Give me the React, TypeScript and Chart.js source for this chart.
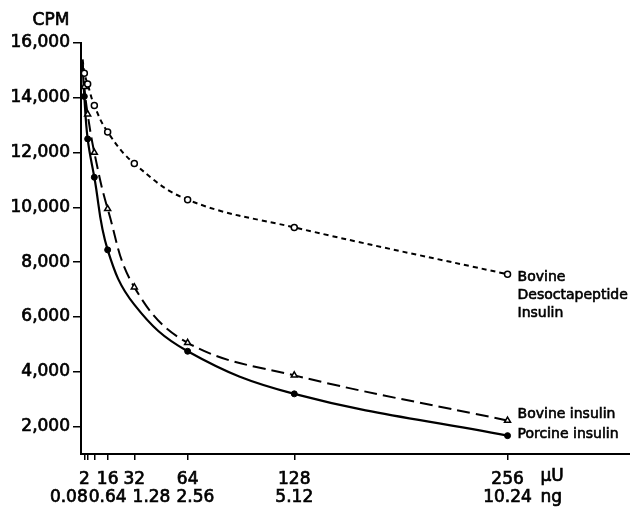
import React, { useEffect, useRef } from "react";
import { Chart, registerables } from "chart.js";

Chart.register(...registerables);

// ---- data ----
const xTicks = [2, 4, 8, 16, 32, 64, 128, 256];
const xLabeled = [2, 16, 32, 64, 128, 256];
const ngLabels = ["0.08", "0.64", "1.28", "2.56", "5.12", "10.24"];
const yTicks = [2000, 4000, 6000, 8000, 10000, 12000, 14000, 16000];
const yTitle = "CPM";
const xUnitTop = "\u03bcU";
const xUnitBottom = "ng";

// curve readings (dose in μU, counts per minute); marker doses list where a symbol is drawn
const desoctDose = [1, 2, 4, 8, 16, 32, 64, 128, 256];
const desoctCpm = [15400, 14900, 14500, 13720, 12750, 11600, 10280, 9270, 7560];
const desoctMarkerDoses = [2, 4, 8, 16, 32, 64, 128, 256];
const desoctLabel = ["Bovine", "Desoctapeptide", "Insulin"];

const bovineDose = [1, 2, 4, 8, 16, 32, 64, 128, 256];
const bovineCpm = [15300, 14400, 13400, 12000, 9950, 7090, 5060, 3870, 2220];
const bovineMarkerDoses = [2, 4, 8, 16, 32, 64, 128, 256];
const bovineLabel = ["Bovine insulin"];

const porcineDose = [1, 2, 4, 8, 16, 32, 64, 128, 256];
const porcineCpm = [15200, 14050, 12500, 11100, 8450, 6450, 4750, 3195, 1670];
const porcineMarkerDoses = [2, 4, 8, 16, 64, 128, 256];
const porcineLabel = ["Porcine insulin"];

const FONT = '"DejaVu Sans", "Liberation Sans", sans-serif';

const toPoints = (xs: number[], ys: number[]) => xs.map((x, i) => ({ x, y: ys[i] }));

const annotPlugin = {
  id: "annot",
  afterDraw(chart: any) {
    const ctx = chart.ctx as CanvasRenderingContext2D;
    const xs = chart.scales.x;
    const ys = chart.scales.y;
    const area = chart.chartArea;
    ctx.save();
    ctx.fillStyle = "#000";
    ctx.strokeStyle = "#000";
    const txt = (t: string, x: number, y: number, sw: number) => {
      ctx.lineWidth = sw;
      ctx.strokeText(t, x, y);
      ctx.fillText(t, x, y);
    };

    // y title
    ctx.font = `17px ${FONT}`;
    ctx.textAlign = "center";
    ctx.textBaseline = "middle";
    txt(yTitle, area.left - 30, area.top - 22, 0.7);

    // ng row
    const rowY = area.bottom + 44;
    const widths = ngLabels.map((t) => ctx.measureText(t).width);
    const centers = xLabeled.map((v) => xs.getPixelForValue(v));
    for (let i = 2; i < centers.length; i++) {
      const minLeft = centers[i - 1] + widths[i - 1] / 2 + 6;
      if (centers[i] - widths[i] / 2 < minLeft) centers[i] = minLeft + widths[i] / 2;
    }
    const maxRight0 = centers[1] - widths[1] / 2 - 1;
    if (centers[0] + widths[0] / 2 > maxRight0) centers[0] = maxRight0 - widths[0] / 2;
    ngLabels.forEach((t, i) => txt(t, centers[i], rowY, 0.7));

    // units
    const last = xs.getPixelForValue(xTicks[xTicks.length - 1]);
    ctx.textAlign = "left";
    txt(xUnitTop, last + 33, area.bottom + 23, 0.7);
    txt(xUnitBottom, last + 33, rowY, 0.7);

    // series labels
    ctx.font = `14px ${FONT}`;
    const drawLabel = (lines: string[], dose: number[], cpm: number[], dy: number) => {
      const n = dose.length - 1;
      const px = xs.getPixelForValue(dose[n]) + 10;
      const py = ys.getPixelForValue(cpm[n]) + dy;
      lines.forEach((l, i) => txt(l, px, py + i * 18, 0.6));
    };
    drawLabel(desoctLabel, desoctDose, desoctCpm, 3);
    drawLabel(bovineLabel, bovineDose, bovineCpm, -6);
    drawLabel(porcineLabel, porcineDose, porcineCpm, -1);
    ctx.restore();
  },
};

export default function App() {
  const ref = useRef<HTMLCanvasElement | null>(null);
  useEffect(() => {
    if (!ref.current) return;
    const radius = (marks: number[], r: number) => (c: any) =>
      c.raw && marks.includes(c.raw.x) ? r : 0;
    const chart = new Chart(ref.current, {
      type: "line",
      data: {
        datasets: [
          {
            label: desoctLabel.join(" "),
            data: toPoints(desoctDose, desoctCpm),
            borderColor: "#000",
            borderWidth: 2,
            borderDash: [5, 4],
            tension: 0.4,
            pointStyle: "circle",
            pointRadius: radius(desoctMarkerDoses, 3),
            pointBackgroundColor: "#fff",
            pointBorderColor: "#000",
            pointBorderWidth: 1.5,
            fill: false,
          },
          {
            label: bovineLabel[0],
            data: toPoints(bovineDose, bovineCpm),
            borderColor: "#000",
            borderWidth: 2,
            borderDash: [13, 6],
            tension: 0.4,
            pointStyle: "triangle",
            pointRadius: radius(bovineMarkerDoses, 3.5),
            pointBackgroundColor: "#fff",
            pointBorderColor: "#000",
            pointBorderWidth: 1.5,
            fill: false,
          },
          {
            label: porcineLabel[0],
            data: toPoints(porcineDose, porcineCpm),
            borderColor: "#000",
            borderWidth: 2.2,
            tension: 0.4,
            pointStyle: "circle",
            pointRadius: radius(porcineMarkerDoses, 3),
            pointBackgroundColor: "#000",
            pointBorderColor: "#000",
            pointBorderWidth: 1,
            fill: false,
          },
        ],
      },
      options: {
        animation: false,
        responsive: true,
        maintainAspectRatio: false,
        layout: { autoPadding: false, padding: { top: 43, left: 0, right: 0, bottom: 0 } },
        plugins: { legend: { display: false }, tooltip: { enabled: false } },
        scales: {
          x: {
            type: "linear",
            min: 0,
            max: 329.5,
            afterFit: (s: any) => {
              s.height = 53;
              s.paddingLeft = 0;
              s.paddingRight = 0;
            },
            afterBuildTicks: (s: any) => {
              s.ticks = xTicks.map((v) => ({ value: v }));
            },
            ticks: {
              autoSkip: false,
              maxRotation: 0,
              padding: 9,
              color: "#000",
              textStrokeColor: "#000",
              textStrokeWidth: 0.7,
              font: { family: FONT, size: 17 },
              callback: (v: any) => (xLabeled.includes(Number(v)) ? String(v) : ""),
            },
            grid: { drawOnChartArea: false, drawTicks: true, tickLength: 6, color: "#000", lineWidth: 1.5 },
            border: { display: true, color: "#000", width: 2 },
          },
          y: {
            type: "linear",
            min: 1000,
            max: 16000,
            afterFit: (s: any) => {
              s.width = 81;
              s.paddingTop = 0;
              s.paddingBottom = 0;
            },
            afterBuildTicks: (s: any) => {
              s.ticks = yTicks.map((v) => ({ value: v }));
            },
            ticks: {
              padding: 3,
              color: "#000",
              textStrokeColor: "#000",
              textStrokeWidth: 0.7,
              font: { family: FONT, size: 17 },
              callback: (v: any) => Number(v).toLocaleString("en-US"),
            },
            grid: { drawOnChartArea: false, drawTicks: true, tickLength: 8, color: "#000", lineWidth: 1.5 },
            border: { display: true, color: "#000", width: 2 },
          },
        },
      },
      plugins: [annotPlugin],
    } as any);
    return () => chart.destroy();
  }, []);
  return (
    <div style={{ position: "fixed", left: 0, top: 0, width: 630, height: 507, background: "#fff" }}>
      <canvas ref={ref} />
    </div>
  );
}
